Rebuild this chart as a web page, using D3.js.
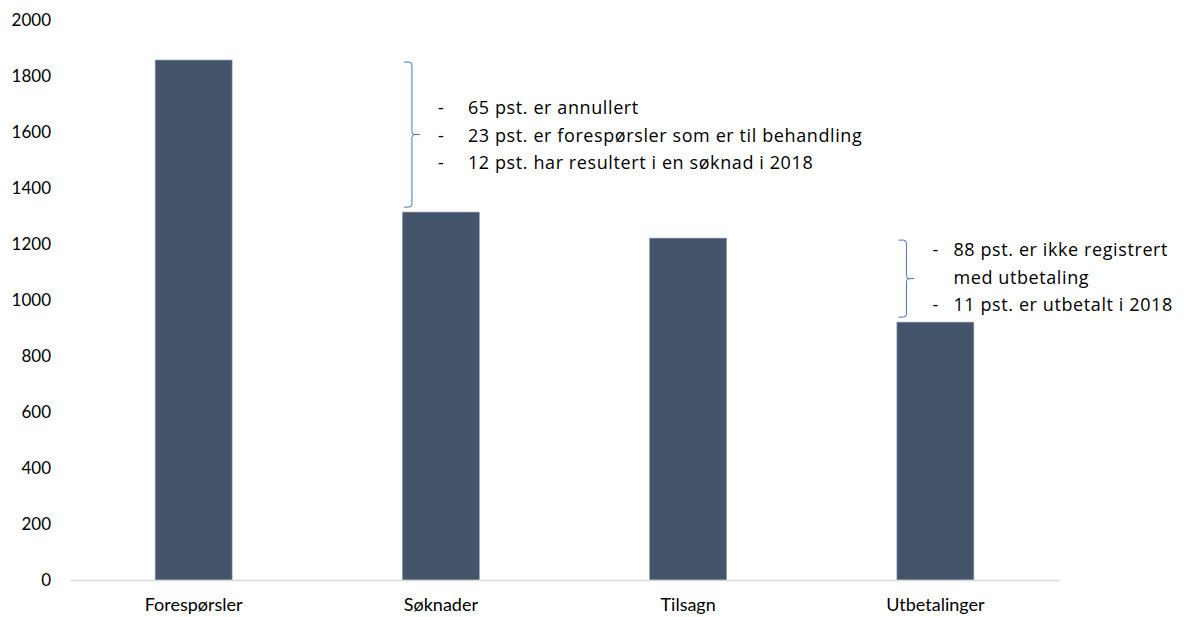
<!DOCTYPE html>
<html>
<head>
<meta charset="utf-8">
<script src="https://cdn.jsdelivr.net/npm/d3@7"></script>
<style>
  html, body { margin: 0; padding: 0; background: #fff; }
  svg { display: block; font-family: Lato, "Open Sans", sans-serif; }
</style>
</head>
<body>
<svg id="chart" width="1184" height="617"></svg>
<script>
// Stages of the process and the number of cases at each stage
const categories = ["Forespørsler", "Søknader", "Tilsagn", "Utbetalinger"];
const values = [1857, 1314, 1221, 921];
const yTicks = [0, 200, 400, 600, 800, 1000, 1200, 1400, 1600, 1800, 2000];

// Notes bracketed between two stages: [from stage index, to stage index]
const noteSpans = [[1, 0], [3, 2]];
const noteLines = [
  [
    { dash: true, text: "65 pst. er annullert" },
    { dash: true, text: "23 pst. er forespørsler som er til behandling" },
    { dash: true, text: "12 pst. har resultert i en søknad i 2018" }
  ],
  [
    { dash: true, text: "88 pst. er ikke registrert" },
    { dash: false, text: "med utbetaling" },
    { dash: true, text: "11 pst. er utbetalt i 2018" }
  ]
];

const width = 1184, height = 617;
const margin = { top: 20, right: 125, bottom: 37, left: 70 };
const svg = d3.select("#chart");

const x = d3.scaleBand()
  .domain(categories)
  .range([margin.left, width - margin.right])
  .paddingInner(0.689)
  .paddingOuter(0.3445);

const y = d3.scaleLinear()
  .domain([0, 2000])
  .range([height - margin.bottom, margin.top]);

// Y axis labels (no axis line, no ticks)
const yAxis = svg.append("g")
  .attr("transform", `translate(${margin.left},0)`)
  .call(d3.axisLeft(y).tickValues(yTicks).tickSize(0).tickPadding(19).tickFormat(d3.format("d")));
yAxis.select(".domain").remove();
yAxis.selectAll("text")
  .attr("fill", "#000")
  .style("font-size", "17px")
  .style("font-family", "Lato, sans-serif");

// Bars
svg.append("g").selectAll("rect")
  .data(categories)
  .join("rect")
  .attr("x", d => x(d))
  .attr("width", x.bandwidth())
  .attr("y", (d, i) => y(values[i]))
  .attr("height", (d, i) => y(0) - y(values[i]))
  .attr("fill", "#44546A")
  .attr("stroke", "#8a96a8")
  .attr("stroke-width", 0.6);

// X axis
const xAxis = svg.append("g")
  .attr("transform", `translate(0,${y(0)})`)
  .call(d3.axisBottom(x).tickSize(0).tickPadding(18));
xAxis.select(".domain").attr("stroke", "#d9d9d9").attr("stroke-width", 1.5);
xAxis.selectAll("text")
  .attr("fill", "#000")
  .style("font-size", "18px")
  .style("font-family", "Lato, sans-serif");

// Curly brackets with notes
const braceG = svg.append("g");
noteSpans.forEach(([lowIdx, highIdx], k) => {
  const cat = categories[lowIdx];
  const bx = x(cat) + 9.5;
  const yTop = y(values[highIdx]) + 2;
  const yBot = y(values[lowIdx]) - 5;
  const yMid = (yTop + yBot) / 2;
  const hook = 8, r = 3;
  const path = d3.path();
  path.moveTo(bx - hook, yTop);
  path.lineTo(bx - r, yTop);
  path.quadraticCurveTo(bx, yTop, bx, yTop + r);
  path.lineTo(bx, yMid - r);
  path.quadraticCurveTo(bx, yMid, bx + r, yMid);
  path.lineTo(bx + hook, yMid);
  path.moveTo(bx + r, yMid);
  path.quadraticCurveTo(bx, yMid, bx, yMid + r);
  path.lineTo(bx, yBot - r);
  path.quadraticCurveTo(bx, yBot, bx - r, yBot);
  path.lineTo(bx - hook, yBot);
  braceG.append("path")
    .attr("d", path.toString())
    .attr("fill", "none")
    .attr("stroke", "#4472C4")
    .attr("stroke-width", 1);

  const lines = noteLines[k];
  const lineH = 27.5;
  const firstY = yMid - lineH * (lines.length - 1) / 2 + (k === 0 ? 1 : -1);
  const tg = braceG.append("g")
    .style("font-size", "18px")
    .style("letter-spacing", "0.6px")
    .style("font-family", "'Open Sans', sans-serif")
    .attr("fill", "#000");
  lines.forEach((ln, j) => {
    const ty = firstY + j * lineH;
    if (ln.dash) {
      tg.append("text").attr("x", bx + 26).attr("y", ty).attr("dy", "0.35em").text("-");
    }
    tg.append("text").attr("x", bx + 56 - (k === 1 ? 9 : 0)).attr("y", ty).attr("dy", "0.35em").text(ln.text);
  });
});
</script>
</body>
</html>
